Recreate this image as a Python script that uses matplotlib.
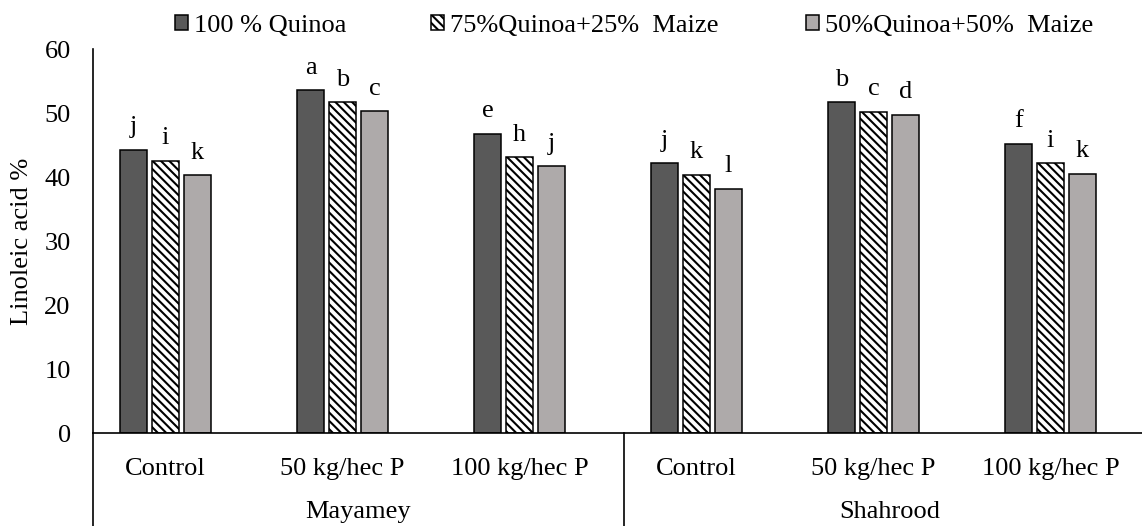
import matplotlib
matplotlib.use("Agg")
import matplotlib.pyplot as plt
from matplotlib.patches import Patch
import numpy as np

plt.rcParams['font.family'] = ['Liberation Serif', 'DejaVu Serif']
plt.rcParams['hatch.linewidth'] = 1.5

categories = ["Control", "50 kg/hec P", "100 kg/hec P",
              "Control", "50 kg/hec P", "100 kg/hec P"]
groups = ["Mayamey", "Shahrood"]
series_names = ["100 % Quinoa", "75%Quinoa+25%  Maize", "50%Quinoa+50%  Maize"]
q100 = [44.3, 53.6, 46.8, 42.2, 51.7, 45.2]
q75 = [42.6, 51.7, 43.1, 40.4, 50.2, 42.2]
q50 = [40.3, 50.3, 41.7, 38.2, 49.8, 40.5]
letters_q100 = ["j", "a", "e", "j", "b", "f"]
letters_q75 = ["i", "b", "h", "k", "c", "i"]
letters_q50 = ["k", "c", "j", "l", "d", "k"]
yticks = [0, 10, 20, 30, 40, 50, 60]

series = [q100, q75, q50]
letters = [letters_q100, letters_q75, letters_q50]
colors = ["#595959", "white", "#AEAAAA"]
hatches = [None, "\\\\\\\\", None]

fig = plt.figure(figsize=(11.42, 5.26), dpi=100)
ax = fig.add_axes([0.0814, 0.1762, 0.9300, 0.7301])

x = np.arange(len(categories))
pitch = 0.1806
width = 0.15
for k, (vals, col, h, lab) in enumerate(zip(series, colors, hatches, letters)):
    xs = x + (k - 1) * pitch
    ax.bar(xs, vals, width=width, color=col, edgecolor="black",
           linewidth=1.1, hatch=h, zorder=2)
    for xi, v, t in zip(xs, vals, lab):
        ax.annotate(t, (xi, v), xytext=(0, 12), textcoords="offset points",
                    ha="center", va="baseline", fontsize=19)

xlo, xhi = -0.41, 5.59
ax.set_xlim(xlo, xhi)
ax.set_ylim(0, 60)
ax.set_yticks(yticks)
ax.tick_params(axis="y", length=0, pad=16, labelsize=19)
ax.set_xticks([])
for s in ["top", "right"]:
    ax.spines[s].set_visible(False)
ax.spines["left"].set_linewidth(1.2)
ax.spines["bottom"].set_linewidth(1.2)
ax.set_ylabel("Linoleic acid %", fontsize=19, labelpad=8)

for xi, c in zip(x, categories):
    ax.annotate(c, (xi, 0), xycoords=("data", "axes fraction"),
                xytext=(0, -30), textcoords="offset points",
                ha="center", va="baseline", fontsize=19)
mid = (xlo + xhi) / 2
group_bounds = [(xlo, mid), (mid, xhi)]
for g, (a, b) in zip(groups, group_bounds):
    ax.annotate(g, ((a + b) / 2, 0), xycoords=("data", "axes fraction"),
                xytext=(0, -61), textcoords="offset points",
                ha="center", va="baseline", fontsize=19)
for xv in [xlo, mid]:
    ax.axvline(xv, ymin=-0.245, ymax=0, color="black", linewidth=1.2,
               clip_on=False)

legend_x = [175 / 1142, 431 / 1142, 806 / 1142]
for name, c, h, lx in zip(series_names, colors, hatches, legend_x):
    hd = Patch(facecolor=c, edgecolor="black", hatch=h, linewidth=1.1)
    fig.legend([hd], [name], loc="center left", bbox_to_anchor=(lx, 0.951),
               frameon=False, fontsize=19, handlelength=0.5,
               handleheight=0.5, handletextpad=0.22, borderpad=0,
               borderaxespad=0)

fig.savefig("out.png", dpi=100)
